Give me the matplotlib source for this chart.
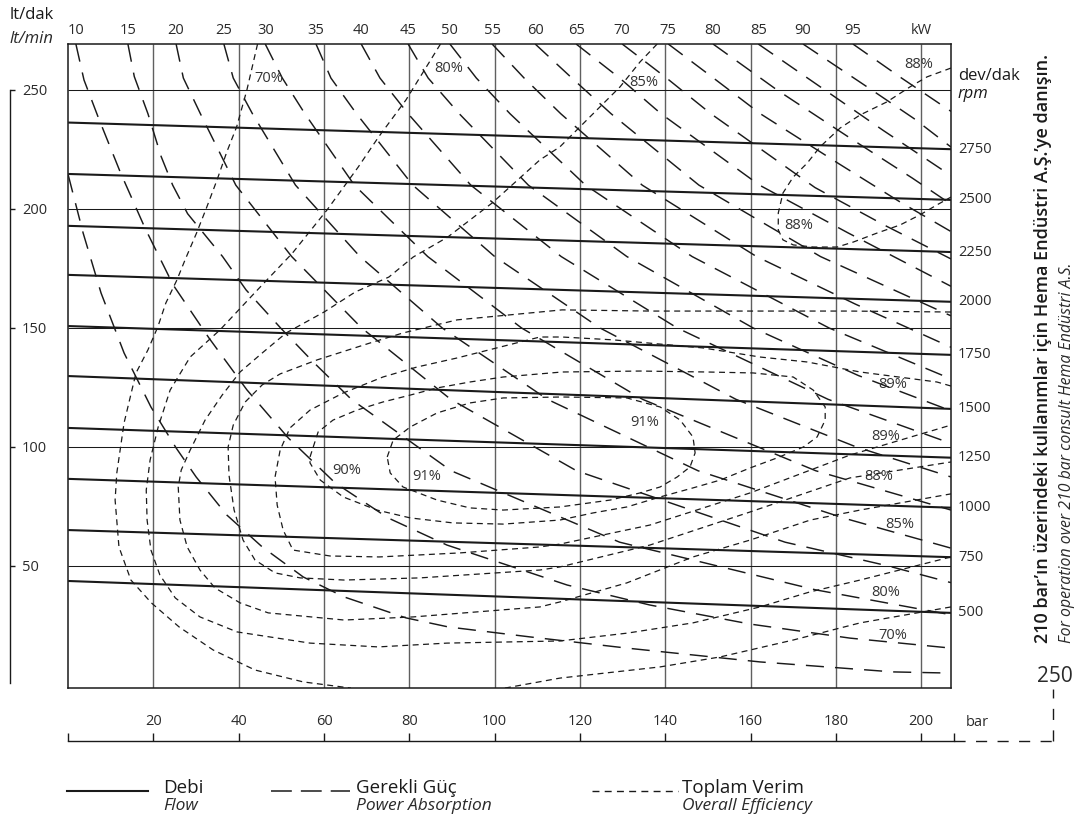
import matplotlib
matplotlib.use('Agg')
import matplotlib.pyplot as plt
from matplotlib.lines import Line2D
from matplotlib import transforms

plt.rcParams['font.family'] = ['Open Sans', 'DejaVu Sans']
plt.rcParams['lines.scale_dashes'] = False

W, H = 1080, 823
INK = '#1a1a1a'
TXT = '#2a2a2a'

# --- flow (Debi) lines: lt/min at 0 bar and at the right edge (207 bar)
rpm = [2750, 2500, 2250, 2000, 1750, 1500, 1250, 1000, 750, 500]
flow_at_0bar = [236.3, 214.7, 192.9, 172.3, 150.8, 129.8, 108.0, 86.6, 65.1, 43.7]
flow_at_max = [225.1, 203.8, 181.9, 161.0, 138.7, 116.0, 95.5, 74.5, 53.7, 30.3]
pressure_range = [0, 207]

# --- power absorption curves (kW), points as (bar, lt/min)
kw05 = [(0.0, 214.3), (3.5, 189.9), (7.7, 164.7), (13.1, 139.5), (19.4, 116.8), (25.3, 99.6),
        (30.0, 87.4), (37.2, 71.4), (45.5, 58.0), (55.1, 45.4), (64.7, 37.0), (79.2, 28.2),
        (89.1, 24.4), (108.3, 20.2), (131.0, 15.5), (162.2, 9.7), (193.4, 5.5), (207.0, 5.0)]
kw10 = [(1.8, 269.3), (3.7, 254.2), (7.0, 238.7), (12.2, 215.5), (18.0, 192.0), (24.6, 168.1),
        (33.0, 145.8), (41.9, 124.0), (51.6, 103.8), (62.6, 84.9), (75.0, 70.2), (88.8, 58.8),
        (102.9, 50.4), (117.0, 42.0), (136.4, 33.6), (159.9, 25.6), (183.3, 19.7), (207.0, 15.5)]
kw15 = [(14.0, 269.3), (15.5, 255.6), (18.7, 240), (21.8, 222), (24.5, 210), (28.0, 198),
        (36.2, 180), (41.7, 166), (49.8, 150), (57.4, 135.8), (66.4, 120), (89.8, 90),
        (129.3, 60), (175.2, 40), (207, 29.5)]
kw20 = [(25.3, 269.3), (27.0, 255), (31.0, 240), (39.3, 210), (52.4, 180), (68.8, 150),
        (89.7, 120), (119.2, 90), (168.1, 60), (192.3, 50), (207, 43.0)]
kw25 = [(36.5, 269.3), (38.7, 255), (43.2, 240), (53.3, 210), (68.4, 180), (87.7, 150),
        (112.4, 120), (147.7, 90), (182.1, 70), (207, 57.5)]
kw30 = [(46.2, 269.3), (50.2, 255), (55.5, 240), (67.1, 210), (84.3, 180), (106.3, 150),
        (134.7, 120), (175.3, 90), (207, 73.5)]
kw35 = [(58.1, 269.3), (61.6, 255), (67.6, 240), (80.8, 210), (100.0, 180), (124.7, 150),
        (156.6, 120), (184.8, 100), (207, 87.4)]
kw40 = [(68.7, 269.3), (73.1, 255), (79.7, 240), (94.4, 210), (115.6, 180), (142.8, 150),
        (178.2, 120), (207, 101.5)]
kw45 = [(79.7, 269.3), (84.4, 255), (91.7, 240), (107.9, 210), (131.0, 180), (160.6, 150),
        (185.3, 130), (207, 115.2)]
kw50 = [(89.5, 269.3), (95.7, 255), (103.6, 240), (121.3, 210), (146.3, 180), (178.4, 150),
        (207, 128.6)]
kw55 = [(99.4, 269.3), (106.9, 255), (115.5, 240), (134.6, 210), (161.4, 180), (184.6, 160),
        (207, 141.9)]
kw60 = [(109.5, 269.3), (118.1, 255), (127.3, 240), (147.9, 210), (176.4, 180), (194.8, 165),
        (207, 155.1)]
kw65 = [(119.1, 269.3), (129.3, 255), (139.0, 240), (162.1, 210), (182.8, 190), (207, 167.5)]
kw70 = [(129.9, 269.3), (140.3, 255), (150.7, 240), (175.1, 209), (191.6, 193), (207, 179)]
kw75 = [(140.7, 269.3), (151.3, 255), (162.3, 240), (180.7, 219), (195.0, 203), (207, 190.5)]
kw80 = [(151.2, 269.3), (166.2, 250), (184.0, 229), (197.9, 213), (207, 202)]
kw85 = [(161.8, 269.3), (177.4, 250), (191.1, 233), (207, 214)]
kw90 = [(172.3, 269.3), (188.4, 250), (198.3, 238), (207, 226)]
kw95 = [(184.0, 269.3), (195.4, 255), (207, 241)]

power_curves = [(None, kw05), (10, kw10), (15, kw15), (20, kw20), (25, kw25), (30, kw30),
                (35, kw35), (40, kw40), (45, kw45), (50, kw50), (55, kw55), (60, kw60),
                (65, kw65), (70, kw70), (75, kw75), (80, kw80), (85, kw85), (90, kw90),
                (95, kw95)]

# --- overall efficiency contours, points as (bar, lt/min)
eff70_upper = [(44.4, 269.3), (41.9, 250.0), (39.5, 234.5), (37.2, 224.0), (34.9, 212.2),
               (32.5, 200.8), (30.1, 189.9), (27.4, 178.6), (25.5, 170.2), (22.9, 160.5),
               (21.0, 150.4), (18.7, 140.8), (15.9, 131.1), (13.1, 110.1), (11.4, 89.1),
               (11.0, 77.7), (11.9, 58.0), (14.7, 44.1), (19.5, 34.5), (26.0, 24.4),
               (34.0, 14.7), (43.8, 6.3), (55.1, 1.3), (66.3, -1.3)]
eff70_lower = [(102.4, -1.3), (115.3, 2.9), (138.8, 7.6), (152.9, 11.8), (170.0, 18.9),
               (185.7, 26.1), (207.0, 32.8)]
eff80 = [(87.3, 269.3), (79.2, 245.8), (72.8, 230.3), (68.0, 217.6), (60.7, 199.6),
         (52.6, 181.5), (43.7, 164.7), (35.6, 149.2), (28.6, 137.8), (23.9, 123.9),
         (21.1, 108.4), (19.2, 94.5), (18.3, 81.9), (18.5, 69.3), (19.4, 56.7), (21.5, 46.2),
         (25.1, 36.6), (30.9, 28.6), (39.6, 22.3), (56.7, 17.6), (72.7, 16.0), (88.8, 17.6),
         (115.3, 18.5), (131.1, 21.8), (146.5, 26.1), (162.2, 32.8), (173.9, 39.1),
         (185.7, 44.1), (207.0, 53.8)]
eff85 = [(138.1, 269.3), (134.1, 261.8), (129.4, 251.3), (124.7, 242.9), (120.0, 234.5),
         (115.3, 226.1), (110.6, 220.6), (99.4, 202.5), (89.0, 188.2), (80.9, 179.8),
         (75.2, 171.4), (67.3, 165.1), (60.0, 156.7), (51.1, 147.9), (45.5, 139.5),
         (40.3, 131.5), (36.1, 121.8), (32.1, 111.3), (28.6, 98.7), (26.5, 90.3), (25.8, 83.2),
         (26.2, 69.3), (27.9, 58.0), (30.9, 48.3), (34.4, 40.8), (40.3, 34.5), (46.9, 30.3),
         (64.7, 27.3), (80.9, 28.6), (110.6, 32.8), (115.3, 34.9), (131.0, 42.9),
         (146.5, 53.8), (159.9, 60.9), (174.0, 69.3), (185.7, 73.5), (207.0, 80.3)]
eff88 = [(207.0, 156.7), (183.3, 157.1), (159.9, 157.1), (136.4, 157.1), (115.8, 157.6),
         (110.6, 156.7), (91.2, 153.4), (78.5, 147.9), (70.8, 143.7), (58.4, 136.6),
         (49.7, 130.7), (45.5, 126.1), (41.5, 118.9), (38.7, 109.2), (37.5, 100.0),
         (37.7, 88.2), (38.9, 73.5), (41.0, 60.9), (43.8, 52.5), (48.5, 47.1), (54.4, 45.0),
         (64.7, 44.1), (82.5, 45.0), (110.6, 48.3), (115.3, 49.6), (136.4, 58.8),
         (159.9, 72.7), (183.3, 87.0), (207.0, 93.7)]
eff88_lobe = [(207.0, 259.2), (201.4, 255.5), (197.4, 251.3), (192.0, 245.0), (185.7, 239.5),
              (181.0, 234.0), (176.3, 226.1), (173.3, 219.3), (170.0, 213.4), (167.6, 206.7),
              (166.5, 198.3), (166.5, 191.2), (167.6, 187.0), (170.0, 184.9), (174.7, 184.0),
              (180.3, 184.0), (184.1, 186.1), (189.7, 189.9), (195.1, 193.3), (199.7, 197.5),
              (203.7, 201.7), (207.0, 205.0)]
eff89 = [(207.0, 125.6), (203.7, 127.3), (185.7, 131.5), (173.3, 135.7), (162.2, 137.8),
         (148.9, 141.6), (127.8, 145.0), (115.8, 146.2), (110.6, 146.2), (91.2, 137.4),
         (81.8, 133.6), (73.8, 129.4), (64.5, 122.7), (56.7, 115.5), (52.0, 108.0),
         (49.7, 98.7), (48.5, 87.4), (49.0, 75.6), (50.4, 65.1), (52.7, 56.7), (61.4, 54.2),
         (72.9, 53.8), (91.9, 55.5), (110.6, 58.0), (115.3, 59.2), (136.4, 67.2),
         (159.9, 80.7), (183.3, 96.6), (207.0, 109.2)]
eff90 = [(56.7, 95.8), (58.6, 106.3), (62.1, 111.3), (67.7, 115.5), (73.8, 118.9), (80.2, 121.8),
         (86.5, 124.8), (94.2, 127.3), (102.0, 129.4), (115.8, 131.5), (134.1, 131.9),
         (149.8, 131.5), (160.6, 131.1), (170.0, 129.4), (174.7, 123.9), (177.5, 116.8),
         (177.5, 111.3), (175.6, 104.2), (172.4, 100.0), (166.2, 95.4), (159.9, 91.2),
         (152.9, 86.1), (146.5, 82.8), (138.8, 79.0), (131.0, 74.8), (123.1, 72.3),
         (115.3, 69.3), (102.0, 67.6), (90.2, 68.1), (80.2, 70.2), (72.4, 73.5), (64.5, 79.0),
         (59.1, 86.1), (56.7, 93.3), (56.7, 95.8)]
eff91 = [(74.8, 95.8), (76.2, 102.9), (80.2, 108.4), (86.5, 114.3), (94.2, 118.5), (102.0, 120.6),
         (115.8, 121.0), (131.0, 120.6), (138.8, 116.8), (143.5, 111.3), (146.5, 104.2),
         (147.0, 97.5), (145.8, 91.6), (142.8, 87.4), (138.8, 83.2), (134.1, 80.7), (127.1, 77.7),
         (115.3, 74.8), (102.0, 73.5), (94.2, 74.4), (86.5, 77.7), (78.5, 83.2), (75.5, 89.1),
         (74.8, 95.8)]

eff_curves = [eff70_upper, eff70_lower, eff80, eff85, eff88, eff88_lobe, eff89, eff90, eff91]

eff_labels = ['70%', '80%', '85%', '88%', '88%', '89%', '89%', '88%', '85%', '80%', '70%',
              '90%', '91%', '91%']
eff_label_bar = [47.1, 89.1, 135.0, 199.4, 171.4, 193.4, 191.8, 190.0, 195.1, 191.6, 193.4,
                 65.2, 84.1, 135.2]
eff_label_flow = [254.8, 258.8, 253.2, 260.5, 192.9, 126.1, 104.2, 87.4, 67.4, 38.7, 20.8,
                  90.1, 87.4, 110.1]

bar_grid = [20, 40, 60, 80, 100, 120, 140, 160, 180, 200]
flow_grid = [50, 100, 150, 200, 250]

X_MAX = 207.0
Y_MIN, Y_MAX = -1.26, 269.3


def fx(px):
    return px / W


def fy(py):
    return 1 - py / H


fig = plt.figure(figsize=(W / 100, H / 100), dpi=100)

ax = fig.add_axes([fx(68.2), fy(688), (951 - 68.2) / W, (688 - 44) / H])
ax.set_xlim(0, X_MAX)
ax.set_ylim(Y_MIN, Y_MAX)
ax.set_xticks([])
ax.set_yticks([])
for s in ax.spines.values():
    s.set_linewidth(1.1)
    s.set_color(INK)
    s.set_zorder(6)

ax.vlines(bar_grid, Y_MIN, Y_MAX, color='#606060', lw=1.0, zorder=1)
ax.hlines(flow_grid, 0, X_MAX, color=INK, lw=0.75, zorder=1)

# flow lines
for r, q0, q1 in zip(rpm, flow_at_0bar, flow_at_max):
    ax.plot(pressure_range, [q0, q1], color=INK, lw=1.5, zorder=4, solid_capstyle='butt')
    ax.text(1.008, q1, str(r), transform=transforms.blended_transform_factory(ax.transAxes, ax.transData),
            ha='left', va='center', fontsize=10.5, color=TXT)

# power curves
top_tf = transforms.blended_transform_factory(ax.transData, ax.transAxes)
for kw, pts in power_curves:
    bars, flows = zip(*pts)
    ax.plot(bars, flows, color=INK, lw=1.05, dashes=(13, 8), zorder=3)
    if kw is not None:
        ax.text(bars[0], 1.021, str(kw), transform=top_tf, ha='center', va='center',
                fontsize=10.5, color=TXT)
ax.text(200.0, 1.021, 'kW', transform=top_tf, ha='center', va='center', fontsize=10.5, color=TXT)

# efficiency contours
for pts in eff_curves:
    bars, flows = zip(*pts)
    ax.plot(bars, flows, color=INK, lw=0.9, dashes=(4.3, 3.2), zorder=3)
for lab, b, q in zip(eff_labels, eff_label_bar, eff_label_flow):
    ax.text(b, q, lab, ha='center', va='center', fontsize=10.5, color='#333333', zorder=5)

# left lt/min scale
axl = fig.add_axes([fx(10), fy(688), 0.0001, (688 - 44) / H])
axl.set_ylim(Y_MIN, Y_MAX)
axl.patch.set_visible(False)
for k in ['top', 'bottom', 'right']:
    axl.spines[k].set_visible(False)
axl.spines['left'].set_bounds(0.8, 250)
axl.spines['left'].set_linewidth(1.0)
axl.spines['left'].set_color(INK)
axl.set_xticks([])
axl.yaxis.tick_right()
axl.set_yticks(flow_grid)
axl.set_yticklabels([str(v) for v in flow_grid])
axl.tick_params(axis='y', direction='out', length=3.5, width=1.0, pad=5, labelsize=10.5,
                colors=INK, labelcolor=TXT)

# bottom bar scale
axb = fig.add_axes([fx(68.2), fy(741), (954 - 68.2) / W, 0.0001])
axb.set_xlim(0, 207.7)
axb.patch.set_visible(False)
for k in ['top', 'left', 'right']:
    axb.spines[k].set_visible(False)
axb.spines['bottom'].set_linewidth(1.0)
axb.spines['bottom'].set_color(INK)
axb.set_yticks([])
axb.xaxis.tick_top()
axb.set_xticks(bar_grid)
axb.set_xticklabels([str(v) for v in bar_grid])
axb.set_xticks([0, 207.7], minor=True)
axb.tick_params(axis='x', which='both', direction='out', length=5.8, width=1.0, pad=3,
                labelsize=10.5, colors=INK, labelcolor=TXT)

fig.text(fx(966), fy(722), 'bar', ha='left', va='center', fontsize=10.5, color=TXT)
fig.add_artist(Line2D([fx(954), fx(1053)], [fy(741), fy(741)], color=INK, lw=1.0,
                      dashes=(8, 7.5)))
fig.add_artist(Line2D([fx(1053), fx(1053)], [fy(741), fy(689)], color=INK, lw=1.0,
                      dashes=(8, 7.5)))
fig.text(fx(1055), fy(677), '250', ha='center', va='center', fontsize=15, color=TXT)

# axis titles
fig.text(fx(10), fy(15), 'lt/dak', ha='left', va='center', fontsize=12, color=INK)
fig.text(fx(10), fy(39), 'lt/min', ha='left', va='center', fontsize=12, style='italic', color=TXT)
fig.text(fx(958), fy(76), 'dev/dak', ha='left', va='center', fontsize=12, color=INK)
fig.text(fx(958), fy(94), 'rpm', ha='left', va='center', fontsize=12, style='italic', color=INK)

# side notes
fig.text(fx(1043), fy(643), '210 bar’ın üzerindeki kullanımlar için Hema Endüstri A.Ş.’ye danışın.',
         rotation=90, ha='center', va='bottom', fontsize=13, fontweight='semibold', color=INK)
fig.text(fx(1067), fy(643), 'For operation over 210 bar consult Hema Endüstri A.S.',
         rotation=90, ha='center', va='bottom', fontsize=11.4, style='italic', color=TXT)

# legend
fig.add_artist(Line2D([fx(67), fx(148)], [fy(791), fy(791)], color=INK, lw=1.5))
fig.add_artist(Line2D([fx(271), fx(350)], [fy(791), fy(791)], color=INK, lw=1.1,
                      dashes=(15, 6.5)))
fig.add_artist(Line2D([fx(592), fx(678)], [fy(791), fy(791)], color=INK, lw=1.0,
                      dashes=(5, 3.8)))
legend_x = [163, 356, 682]
legend_main = ['Debi', 'Gerekli Güç', 'Toplam Verim']
legend_sub = ['Flow', 'Power Absorption', 'Overall Efficiency']
for lx, t1, t2 in zip(legend_x, legend_main, legend_sub):
    fig.text(fx(lx), fy(788), t1, ha='left', va='center', fontsize=13.5, color=INK)
    fig.text(fx(lx), fy(806), t2, ha='left', va='center', fontsize=12.5, style='italic', color=TXT)

fig.savefig('out.png', dpi=100)
